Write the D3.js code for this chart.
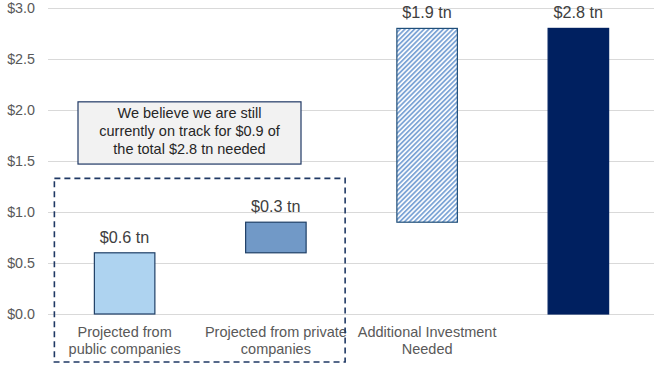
<!DOCTYPE html>
<html>
<head>
<meta charset="utf-8">
<script src="https://cdn.jsdelivr.net/npm/d3@7"></script>
<style>
  html, body { margin: 0; padding: 0; background: #fff; }
  svg { display: block; font-family: Arial, "Liberation Sans", sans-serif; }
</style>
</head>
<body>
<svg id="chart" width="655" height="366"></svg>
<script>
// Waterfall: investment sources building up to the total needed (US$ tn)
const categories = ["public", "private", "additional", "total"];
const categoryLabels = [
  ["Projected from", "public companies"],
  ["Projected from private", "companies"],
  ["Additional Investment", "Needed"],
  []
];
const barValues = [0.6, 0.3, 1.9, 2.8];
const barBases = [0, 0.6, 0.9, 0];
const valueLabels = ["$0.6 tn", "$0.3 tn", "$1.9 tn", "$2.8 tn"];
const yTicks = [0, 0.5, 1.0, 1.5, 2.0, 2.5, 3.0];
const noteLines = ["We believe we are still", "currently on track for $0.9 of", "the total $2.8 tn needed"];

const svg = d3.select("#chart");
const margin = { left: 49, right: 1, top: 8, bottom: 52 };
const W = 655, H = 366;

const x = d3.scaleBand()
  .domain(categories)
  .range([margin.left, W - margin.right])
  .paddingInner(0.6)
  .paddingOuter(0.3);

const y = d3.scaleLinear()
  .domain([0, 3])
  .range([H - margin.bottom, margin.top]);

// hatch pattern for the gap still to be funded
const defs = svg.append("defs");
const pat = defs.append("pattern")
  .attr("id", "hatch")
  .attr("patternUnits", "userSpaceOnUse")
  .attr("width", 3.4).attr("height", 3.4)
  .attr("patternTransform", "rotate(45)");
pat.append("rect").attr("width", 3.4).attr("height", 3.4).attr("fill", "#ffffff");
pat.append("rect").attr("width", 1.8).attr("height", 3.4).attr("fill", "#7ea5d6");

// gridlines + y labels
const yAxis = d3.axisLeft(y)
  .tickValues(yTicks)
  .tickSize(-(W - margin.left))
  .tickPadding(13)
  .tickFormat(d => "$" + d3.format(".1f")(d));

const gy = svg.append("g")
  .attr("transform", `translate(${margin.left - 1},0)`)
  .call(yAxis);
gy.select(".domain").remove();
gy.selectAll(".tick line").attr("stroke", "#d9d9d9").attr("stroke-width", 1.2);
gy.selectAll(".tick text")
  .attr("fill", "#595959")
  .attr("font-size", 14.3)
  .attr("font-family", "Arial, 'Liberation Sans', sans-serif");

// bars
const fills = ["#aed3f0", "#7199c7", "url(#hatch)", "#002060"];
const strokes = ["#1f3f66", "#1f3f66", "#1f4e79", "#002060"];

svg.append("g").selectAll("rect")
  .data(categories)
  .join("rect")
  .attr("x", d => x(d))
  .attr("width", x.bandwidth())
  .attr("y", (d, i) => y(barBases[i] + barValues[i]))
  .attr("height", (d, i) => y(barBases[i]) - y(barBases[i] + barValues[i]))
  .attr("fill", (d, i) => fills[i])
  .attr("stroke", (d, i) => strokes[i])
  .attr("stroke-width", 1.2);

// value labels
svg.append("g").selectAll("text")
  .data(categories)
  .join("text")
  .attr("x", d => x(d) + x.bandwidth() / 2)
  .attr("y", (d, i) => y(barBases[i] + barValues[i]) - 10)
  .attr("text-anchor", "middle")
  .attr("fill", "#404040")
  .attr("font-size", 16.2)
  .text((d, i) => valueLabels[i]);

// category labels
const gx = svg.append("g");
categories.forEach((c, i) => {
  const t = gx.append("text")
    .attr("x", x(c) + x.bandwidth() / 2)
    .attr("y", y(0) + 23)
    .attr("text-anchor", "middle")
    .attr("fill", "#595959")
    .attr("font-size", 14.5);
  categoryLabels[i].forEach((line, k) => {
    t.append("tspan")
      .attr("x", x(c) + x.bandwidth() / 2)
      .attr("dy", k === 0 ? 0 : 17)
      .text(line);
  });
});

// dashed bracket around the two projected contributions
const boxLeft = x("public") - 40;
const boxRight = x("private") + x.bandwidth() + 39;
svg.append("rect")
  .attr("x", boxLeft)
  .attr("y", y(1.33))
  .attr("width", boxRight - boxLeft)
  .attr("height", 362 - y(1.33))
  .attr("fill", "none")
  .attr("stroke", "#1f3864")
  .attr("stroke-width", 1.6)
  .attr("stroke-dasharray", "6,4");

// note box
const nx = 78, nw = 223;
const ny = y(2.08), nh = y(1.47) - y(2.08);
svg.append("rect")
  .attr("x", nx).attr("y", ny)
  .attr("width", nw).attr("height", nh)
  .attr("fill", "#f2f2f2")
  .attr("stroke", "#1f3864")
  .attr("stroke-width", 1.2);
const note = svg.append("text")
  .attr("text-anchor", "middle")
  .attr("fill", "#262626")
  .attr("font-size", 14.5);
noteLines.forEach((line, k) => {
  note.append("tspan")
    .attr("x", nx + nw / 2)
    .attr("y", ny + 16 + k * 18)
    .text(line);
});
</script>
</body>
</html>
